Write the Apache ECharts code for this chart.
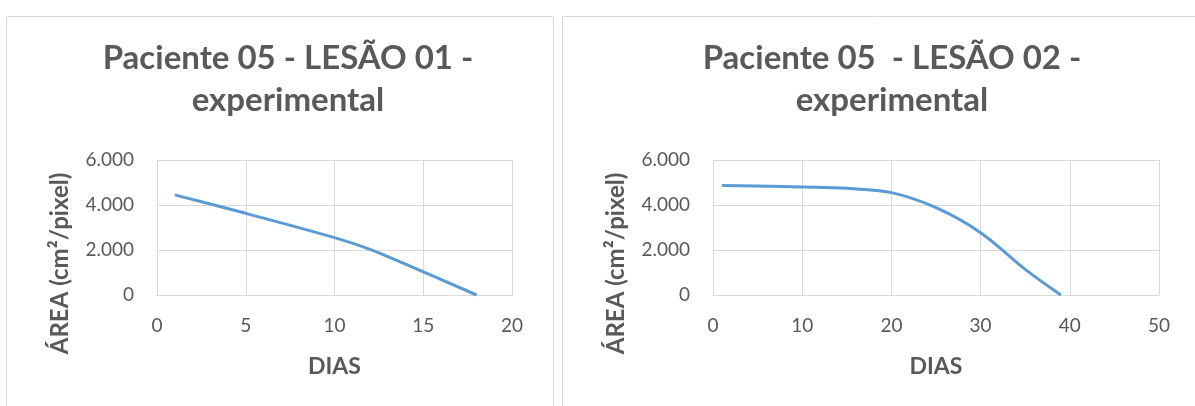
<!DOCTYPE html>
<html>
<head>
<meta charset="utf-8">
<script src="https://cdn.jsdelivr.net/npm/echarts@6/dist/echarts.min.js"></script>
<style>
  html, body { margin: 0; padding: 0; background: #ffffff; }
  #chart { width: 1195px; height: 406px; }
</style>
</head>
<body>
<div id="chart"></div>
<script>
// Wound area (cm²/pixel) over days, patient 05
const titles = ['Paciente 05 - LESÃO 01 -\nexperimental', 'Paciente 05  - LESÃO 02 -\nexperimental'];
const yAxisName = 'ÁREA (cm²/pixel)';
const xAxisName = 'DIAS';

const lesao01Days = [1, 5, 10, 12, 14, 18];
const lesao01Area = [4450, 3630, 2550, 2030, 1370, 0];

const lesao02Days = [1, 10, 15, 20, 25, 30, 35, 39];
const lesao02Area = [4870, 4800, 4740, 4550, 3880, 2770, 1140, 0];

const xMax = [20, 50];
const xStep = [5, 10];

const FONT = 'Lato, "Open Sans", sans-serif';
const TEXT = '#595959';
const GRID = '#d9d9d9';
const LINE = '#5b9bd5';

function pairs(xs, ys) { return xs.map((x, i) => [x, ys[i]]); }

const grids = [
  { left: 157, top: 160, width: 355, height: 135 },
  { left: 713, top: 160, width: 446, height: 135 }
];

const chart = echarts.init(document.getElementById('chart'), null, { renderer: 'canvas' });

chart.setOption({
  animation: false,
  textStyle: { fontFamily: FONT },
  graphic: [
    { type: 'rect', shape: { x: 6.5, y: 16.5, width: 547, height: 420 },
      style: { fill: 'none', stroke: GRID, lineWidth: 1 }, silent: true },
    { type: 'rect', shape: { x: 562.5, y: 16.5, width: 700, height: 420 },
      style: { fill: 'none', stroke: GRID, lineWidth: 1 }, silent: true }
  ],
  title: [
    { text: titles[0], left: 283, top: 32, textAlign: 'center',
      textStyle: { fontFamily: FONT, fontSize: 33, fontWeight: 'bold', color: TEXT, lineHeight: 42 } },
    { text: titles[1], left: 887, top: 32, textAlign: 'center',
      textStyle: { fontFamily: FONT, fontSize: 33, fontWeight: 'bold', color: TEXT, lineHeight: 42 } }
  ],
  grid: grids,
  xAxis: [0, 1].map(i => ({
    type: 'value', gridIndex: i, min: 0, max: xMax[i], interval: xStep[i],
    name: xAxisName, nameLocation: 'middle', nameGap: 60,
    nameTextStyle: { fontFamily: FONT, fontSize: 23, fontWeight: 'bold', color: TEXT },
    axisLine: { show: true, onZero: false, lineStyle: { color: GRID, width: 1 } },
    axisTick: { show: false },
    axisLabel: { fontFamily: FONT, fontSize: 19, color: TEXT, margin: 21 },
    splitLine: { show: true, lineStyle: { color: GRID, width: 1 } }
  })),
  yAxis: [0, 1].map(i => ({
    type: 'value', gridIndex: i, min: 0, max: 6000, interval: 2000,
    name: yAxisName, nameLocation: 'middle', nameGap: 85, nameRotate: 90,
    nameTextStyle: { fontFamily: FONT, fontSize: 24, fontWeight: 'bold', color: TEXT, padding: [0, 72, 0, 0] },
    axisLine: { show: false },
    axisTick: { show: false },
    axisLabel: { fontFamily: FONT, fontSize: 19, color: TEXT, margin: 23,
      formatter: v => v === 0 ? '0' : v.toLocaleString('pt-BR', { minimumFractionDigits: 0 }) },
    splitLine: { show: true, lineStyle: { color: GRID, width: 1 } }
  })),
  series: [
    { type: 'line', xAxisIndex: 0, yAxisIndex: 0, data: pairs(lesao01Days, lesao01Area),
      smooth: 0.35, showSymbol: false, lineStyle: { color: LINE, width: 3 } },
    { type: 'line', xAxisIndex: 1, yAxisIndex: 1, data: pairs(lesao02Days, lesao02Area),
      smooth: 0.35, showSymbol: false, lineStyle: { color: LINE, width: 3 } }
  ]
});
</script>
</body>
</html>
